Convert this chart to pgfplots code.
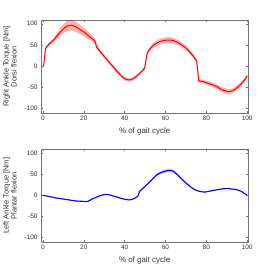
\documentclass[border=0pt]{standalone}
\usepackage{pgfplots}
\pgfplotsset{compat=1.18}
\usepackage{pgfplotstable}
\usepgfplotslibrary{fillbetween}
\usepackage{fontspec}
\setmainfont{Liberation Sans}

\pgfplotstableread{
x m s
0 0 1
0.3 0 1.5
1.3 42 3
2 46 3.5
3 52 4
4 56 4.5
5 60 5
6 66 6
7 72 7
8 78 8
9 83 9
10 88 10
11 92 11
12 95 12
13 96 12.5
14 96 12.5
15 95 12
16 93 12
17 90 11.5
18 87 11
19 84 10.5
20 81 10
21 77 9.5
22 73 9
23 69 8
24 65 7.5
25 61 7
25.5 59 6.5
26.3 45 5.5
27 41 5
28 34 4.5
29 29 4
30 23 4
31 17.5 4
32 12 4
33 6 4
34 0.5 4
35 -5 4
36 -11 4
37 -16 4
38 -21 4
39 -26 4
40 -29.5 4
41 -31.5 4
42 -32.5 4
43 -32 4
44 -30 4
45 -27 3.5
46 -23 3.5
47 -19 3.5
48 -14 3.5
49 -9 3.5
49.8 -5 3.5
51 30 4
52 38 5
53 44 5.5
54 49 6
55 52 6.5
56 55 7
57 57 7
58 59 7
59 60 7
60 61 7
61 61.5 7
62 61.5 7
63 61 7
64 60 6.5
65 58 6.5
66 56 6
67 53 6
68 50 5.5
69 46.5 5.5
70 43 5
71 38 5
72 33 4.5
73 27 4.5
74 21 4
75 14 4
75.3 12 4
76.3 -35 4
77 -35.5 4
78 -36 4
79 -37.5 4.5
80 -39 4.5
81 -41 5
82 -42.5 5
83 -44 5
84 -46 5.5
85 -48 5.5
86 -51 6
87 -54 6
88 -56.5 6
89 -58 6
90 -59.5 6
91 -60 6
92 -59.5 6
93 -58 6
94 -55 5.5
95 -51 5.5
96 -47 5
97 -42 5
98 -37 4.5
99 -31 4.5
100 -23 4
}\righttab

\pgfplotstableread{
x m s
0 0 1
2 -2 1
4 -4 1
6 -6 1
8 -7.5 1
10 -9 1
12 -10.5 1
14 -12 1
16 -13.5 1
18 -14 1
20 -14.5 1
21 -15 1
22 -14.5 1
23 -12 1
24 -9 1
26 -5 1
28 -1 1
30 1.5 1
31 2 1
32 1.5 1
34 -1 1
36 -4 1
38 -7 1
40 -9.5 1
42 -11 1
43 -10.5 1
44 -9 1
45 -7 1
46 -4 1
46.5 -2 1
47.3 9 1.5
48 12 1.5
50 21 2
52 30 2
54 40 2.5
56 49 3
58 54 3.5
60 57 4
61 58 4
62 58.5 4
63 58 4
64 56 3.5
66 48 3
68 38 2.5
70 29 2
72 21 1.5
74 14 1.5
76 10 1
78 8 1
79.5 7.5 1
81 9 1
84 12 1
87 14.5 1
89 15.5 1
91 15.5 1
93 14.5 1
95 13 1
97 9.5 1
99 3 1
100 0 1
}\lefttab

\pgfplotsset{myax/.style={
  scale only axis, width=208.5pt, height=93pt,
  xmin=-0.9, xmax=100.5, ymin=-110, ymax=108,
  xtick={0,20,...,100}, ytick={-100,-50,0,50,100},
  tick align=inside, major tick length=2pt,
  axis line style={black!55, line width=0.4pt},
  tick style={black!55, line width=0.4pt},
  ticklabel style={font=\fontsize{6.5}{7}\selectfont, text=black!80},
  /pgf/number format/assume math mode=true,
  xlabel={\% of gait cycle},
  xlabel style={font=\fontsize{8}{9}\selectfont, text=black!80, at={(axis description cs:0.5,-0.2)}, anchor=center},
  ylabel style={font=\fontsize{7.5}{8}\selectfont, text=black!80, at={(axis description cs:-0.1007,0.5)}, anchor=south, align=center},
  clip=true,
}}

\begin{document}
\begin{tikzpicture}
\begin{axis}[myax, at={(39.5pt,160.5pt)}, anchor=south west,
  ylabel={Right Ankle Torque [Nm]\\Dorsi flexion}]
\addplot[draw=none, name path=ru, forget plot] table[x=x, y expr=\thisrow{m}+\thisrow{s}] {\righttab};
\addplot[draw=none, name path=rl, forget plot] table[x=x, y expr=\thisrow{m}-\thisrow{s}] {\righttab};
\addplot[fill=red, fill opacity=0.3, draw=none] fill between[of=ru and rl];
\addplot[red, line width=1pt] table[x=x, y=m] {\righttab};
\end{axis}
\begin{axis}[myax, at={(39.5pt,30.5pt)}, anchor=south west,
  ylabel={Left Ankle Torque [Nm]\\Plantar flexion}]
\addplot[draw=none, name path=lu, forget plot] table[x=x, y expr=\thisrow{m}+\thisrow{s}] {\lefttab};
\addplot[draw=none, name path=ll, forget plot] table[x=x, y expr=\thisrow{m}-\thisrow{s}] {\lefttab};
\addplot[fill=blue, fill opacity=0.25, draw=none] fill between[of=lu and ll];
\addplot[blue, line width=1.1pt] table[x=x, y=m] {\lefttab};
\end{axis}
\path (0pt,0pt) rectangle (274pt,274pt);
\end{tikzpicture}
\end{document}
